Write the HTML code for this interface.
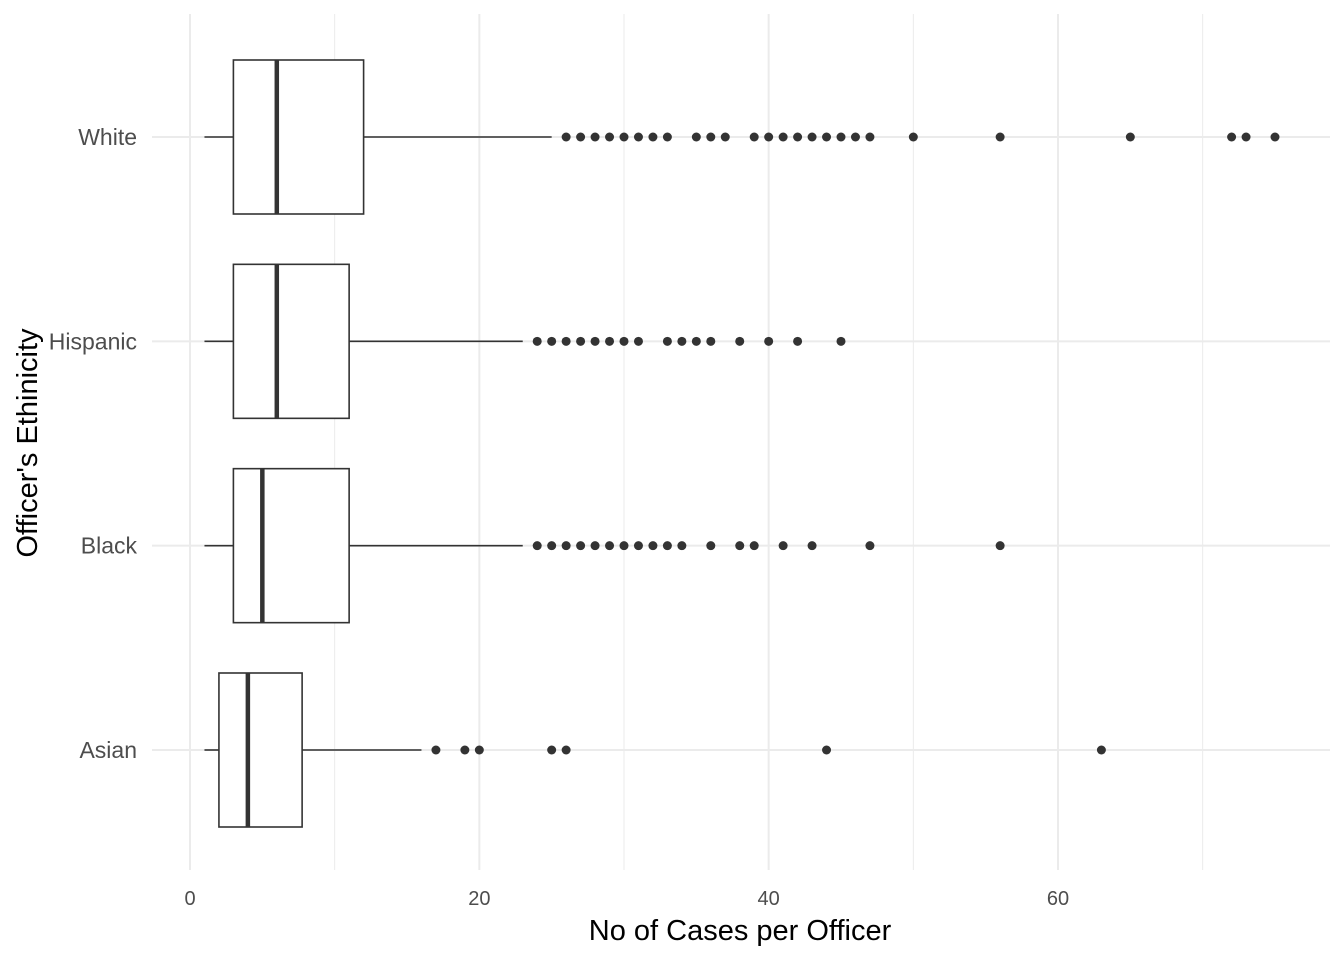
<!DOCTYPE html>
<html><head><meta charset="utf-8"><style>
html,body{margin:0;padding:0;background:#fff;}
svg text{font-family:"Liberation Sans",Arial,sans-serif;}
</style></head><body>
<svg id="chart" width="1344" height="960" xmlns="http://www.w3.org/2000/svg">
<g id="grid"></g>
<g id="boxes"></g>
<g id="xticks"></g>
<g id="yticks"></g>
<text x="740" y="940" text-anchor="middle" font-size="29" fill="#000">No of Cases per Officer</text>
<text transform="translate(37,443) rotate(-90)" text-anchor="middle" font-size="29" fill="#000">Officer's Ethinicity</text>
</svg>
<script>
const categories = ["White","Hispanic","Black","Asian"];
const whiskerLow = [1,1,1,1];
const q1 = [3,3,3,2];
const medians = [6,6,5,4];
const q3 = [12,11,11,7.75];
const whiskerHigh = [25,23,23,16];
const outliers = [
 [26,27,28,29,30,31,32,33,35,36,37,39,40,41,42,43,44,45,46,47,50,56,65,72,73,75],
 [24,25,26,27,28,29,30,31,33,34,35,36,38,40,42,45],
 [24,25,26,27,28,29,30,31,32,33,34,36,38,39,41,43,47,56],
 [17,19,20,25,26,44,63]
];
const majorTicks = [0,20,40,60];
const minorTicks = [10,30,50,70];

const NS="http://www.w3.org/2000/svg";
const x = v => 190 + v*(1058-190)/60;
const y = i => 137 + i*(750-137)/3;
const halfH = 77;
function mk(tag, attrs, parent){const e=document.createElementNS(NS,tag);for(const k in attrs)e.setAttribute(k,attrs[k]);parent.appendChild(e);return e;}
const grid=document.getElementById('grid'), boxes=document.getElementById('boxes'), xt=document.getElementById('xticks'), yt=document.getElementById('yticks');

minorTicks.forEach(t=>{const l=mk('line',{x1:x(t),x2:x(t),y1:14,y2:870,stroke:'#ebebeb','stroke-width':1},grid);

});
majorTicks.forEach(t=>{const l=mk('line',{x1:x(t),x2:x(t),y1:14,y2:870,stroke:'#ebebeb','stroke-width':2},grid);


const tx=mk('text',{x:x(t),y:905,'text-anchor':'middle','font-size':20,fill:'#4d4d4d'},xt);tx.textContent=t;

});
categories.forEach((c,i)=>{
 const l=mk('line',{x1:152,x2:1330,y1:y(i),y2:y(i),stroke:'#ebebeb','stroke-width':2},grid);
 
 
 const t=mk('text',{x:137,y:y(i)+8,'text-anchor':'end','font-size':23,fill:'#4d4d4d'},yt);t.textContent=c;
 
 
 const g=mk('g',{},boxes);
 
 
 mk('line',{x1:x(whiskerLow[i]),x2:x(q1[i]),y1:y(i),y2:y(i),stroke:'#333','stroke-width':1.6},g);
 mk('line',{x1:x(q3[i]),x2:x(whiskerHigh[i]),y1:y(i),y2:y(i),stroke:'#333','stroke-width':1.6},g);
 mk('rect',{x:x(q1[i]),y:y(i)-halfH,width:x(q3[i])-x(q1[i]),height:2*halfH,fill:'#fff',stroke:'#333','stroke-width':1.6},g);
 mk('line',{x1:x(medians[i]),x2:x(medians[i]),y1:y(i)-halfH,y2:y(i)+halfH,stroke:'#333','stroke-width':4.5},g);
 outliers[i].forEach(v=>{const p=mk('circle',{cx:x(v),cy:y(i),r:4.5,fill:'#333'},g);
  
  });
});
</script>
</body></html>
